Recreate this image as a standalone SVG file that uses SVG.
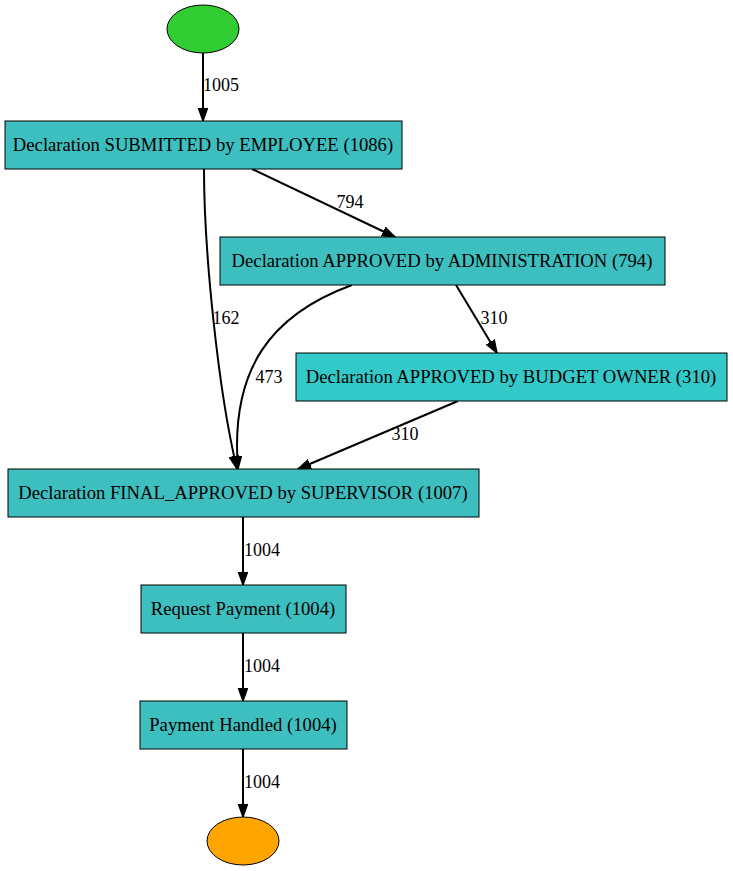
<svg xmlns="http://www.w3.org/2000/svg" width="733" height="871" viewBox="0 0 733 871">
<style>
text{font-family:"Liberation Serif","Times New Roman",serif;font-size:18.67px;fill:#000}
.n text{text-anchor:middle}
.box{fill:#3dbfbf;stroke:#000;stroke-width:1}
.box2{fill:#33c9c9;stroke:#000;stroke-width:1}
.e path{fill:none;stroke:#000;stroke-width:2;marker-end:url(#arr)}
.e text{text-anchor:middle;font-size:18px}
</style>
<defs>
<marker id="arr" markerUnits="userSpaceOnUse" markerWidth="16" markerHeight="12" refX="13" refY="5" orient="auto" viewBox="0 0 16 12">
<path d="M0,0.3 L13,5 L0,9.7 Z" fill="#000" stroke="#000" stroke-width="1.3"/>
</marker>
</defs>
<rect width="733" height="871" fill="#fff"/>
<g id="connectors" class="e">
<path d="M203,53 L203,121"/><text x="221" y="91">1005</text>
<path d="M252,169 L395,237"/><text x="350" y="208">794</text>
<path d="M204,169 C204,250 218,390 237,469"/><text x="226" y="324">162</text>
<path d="M352,285 C270,315 230,370 238,469"/><text x="269" y="383">473</text>
<path d="M456,285 L497,353"/><text x="494" y="324">310</text>
<path d="M458,401 L298,469"/><text x="405" y="440">310</text>
<path d="M243,517 L243,585"/><text x="262" y="556">1004</text>
<path d="M243,633 L243,701"/><text x="262" y="672">1004</text>
<path d="M243,749 L243,817"/><text x="262" y="788">1004</text>
</g>
<g id="start" class="n"><ellipse cx="203" cy="29" rx="36" ry="24" fill="#32cd32" stroke="#000"/></g>
<g id="n1" class="n"><rect class="box" x="5" y="121" width="397" height="48"/><text x="203" y="151">Declaration SUBMITTED by EMPLOYEE (1086)</text></g>
<g id="n2" class="n"><rect class="box" x="220" y="237" width="445" height="48"/><text x="442" y="267">Declaration APPROVED by ADMINISTRATION (794)</text></g>
<g id="n3" class="n"><rect class="box2" x="296" y="353" width="431" height="48"/><text x="511" y="383">Declaration APPROVED by BUDGET OWNER (310)</text></g>
<g id="n4" class="n"><rect class="box" x="8" y="469" width="471" height="48"/><text x="243" y="499">Declaration FINAL_APPROVED by SUPERVISOR (1007)</text></g>
<g id="n5" class="n"><rect class="box" x="141" y="585" width="205" height="48"/><text x="243" y="615">Request Payment (1004)</text></g>
<g id="n6" class="n"><rect class="box" x="140" y="701" width="207" height="48"/><text x="243" y="731">Payment Handled (1004)</text></g>
<g id="end" class="n"><ellipse cx="243" cy="841" rx="36" ry="24" fill="#ffa500" stroke="#000"/></g>
</svg>
